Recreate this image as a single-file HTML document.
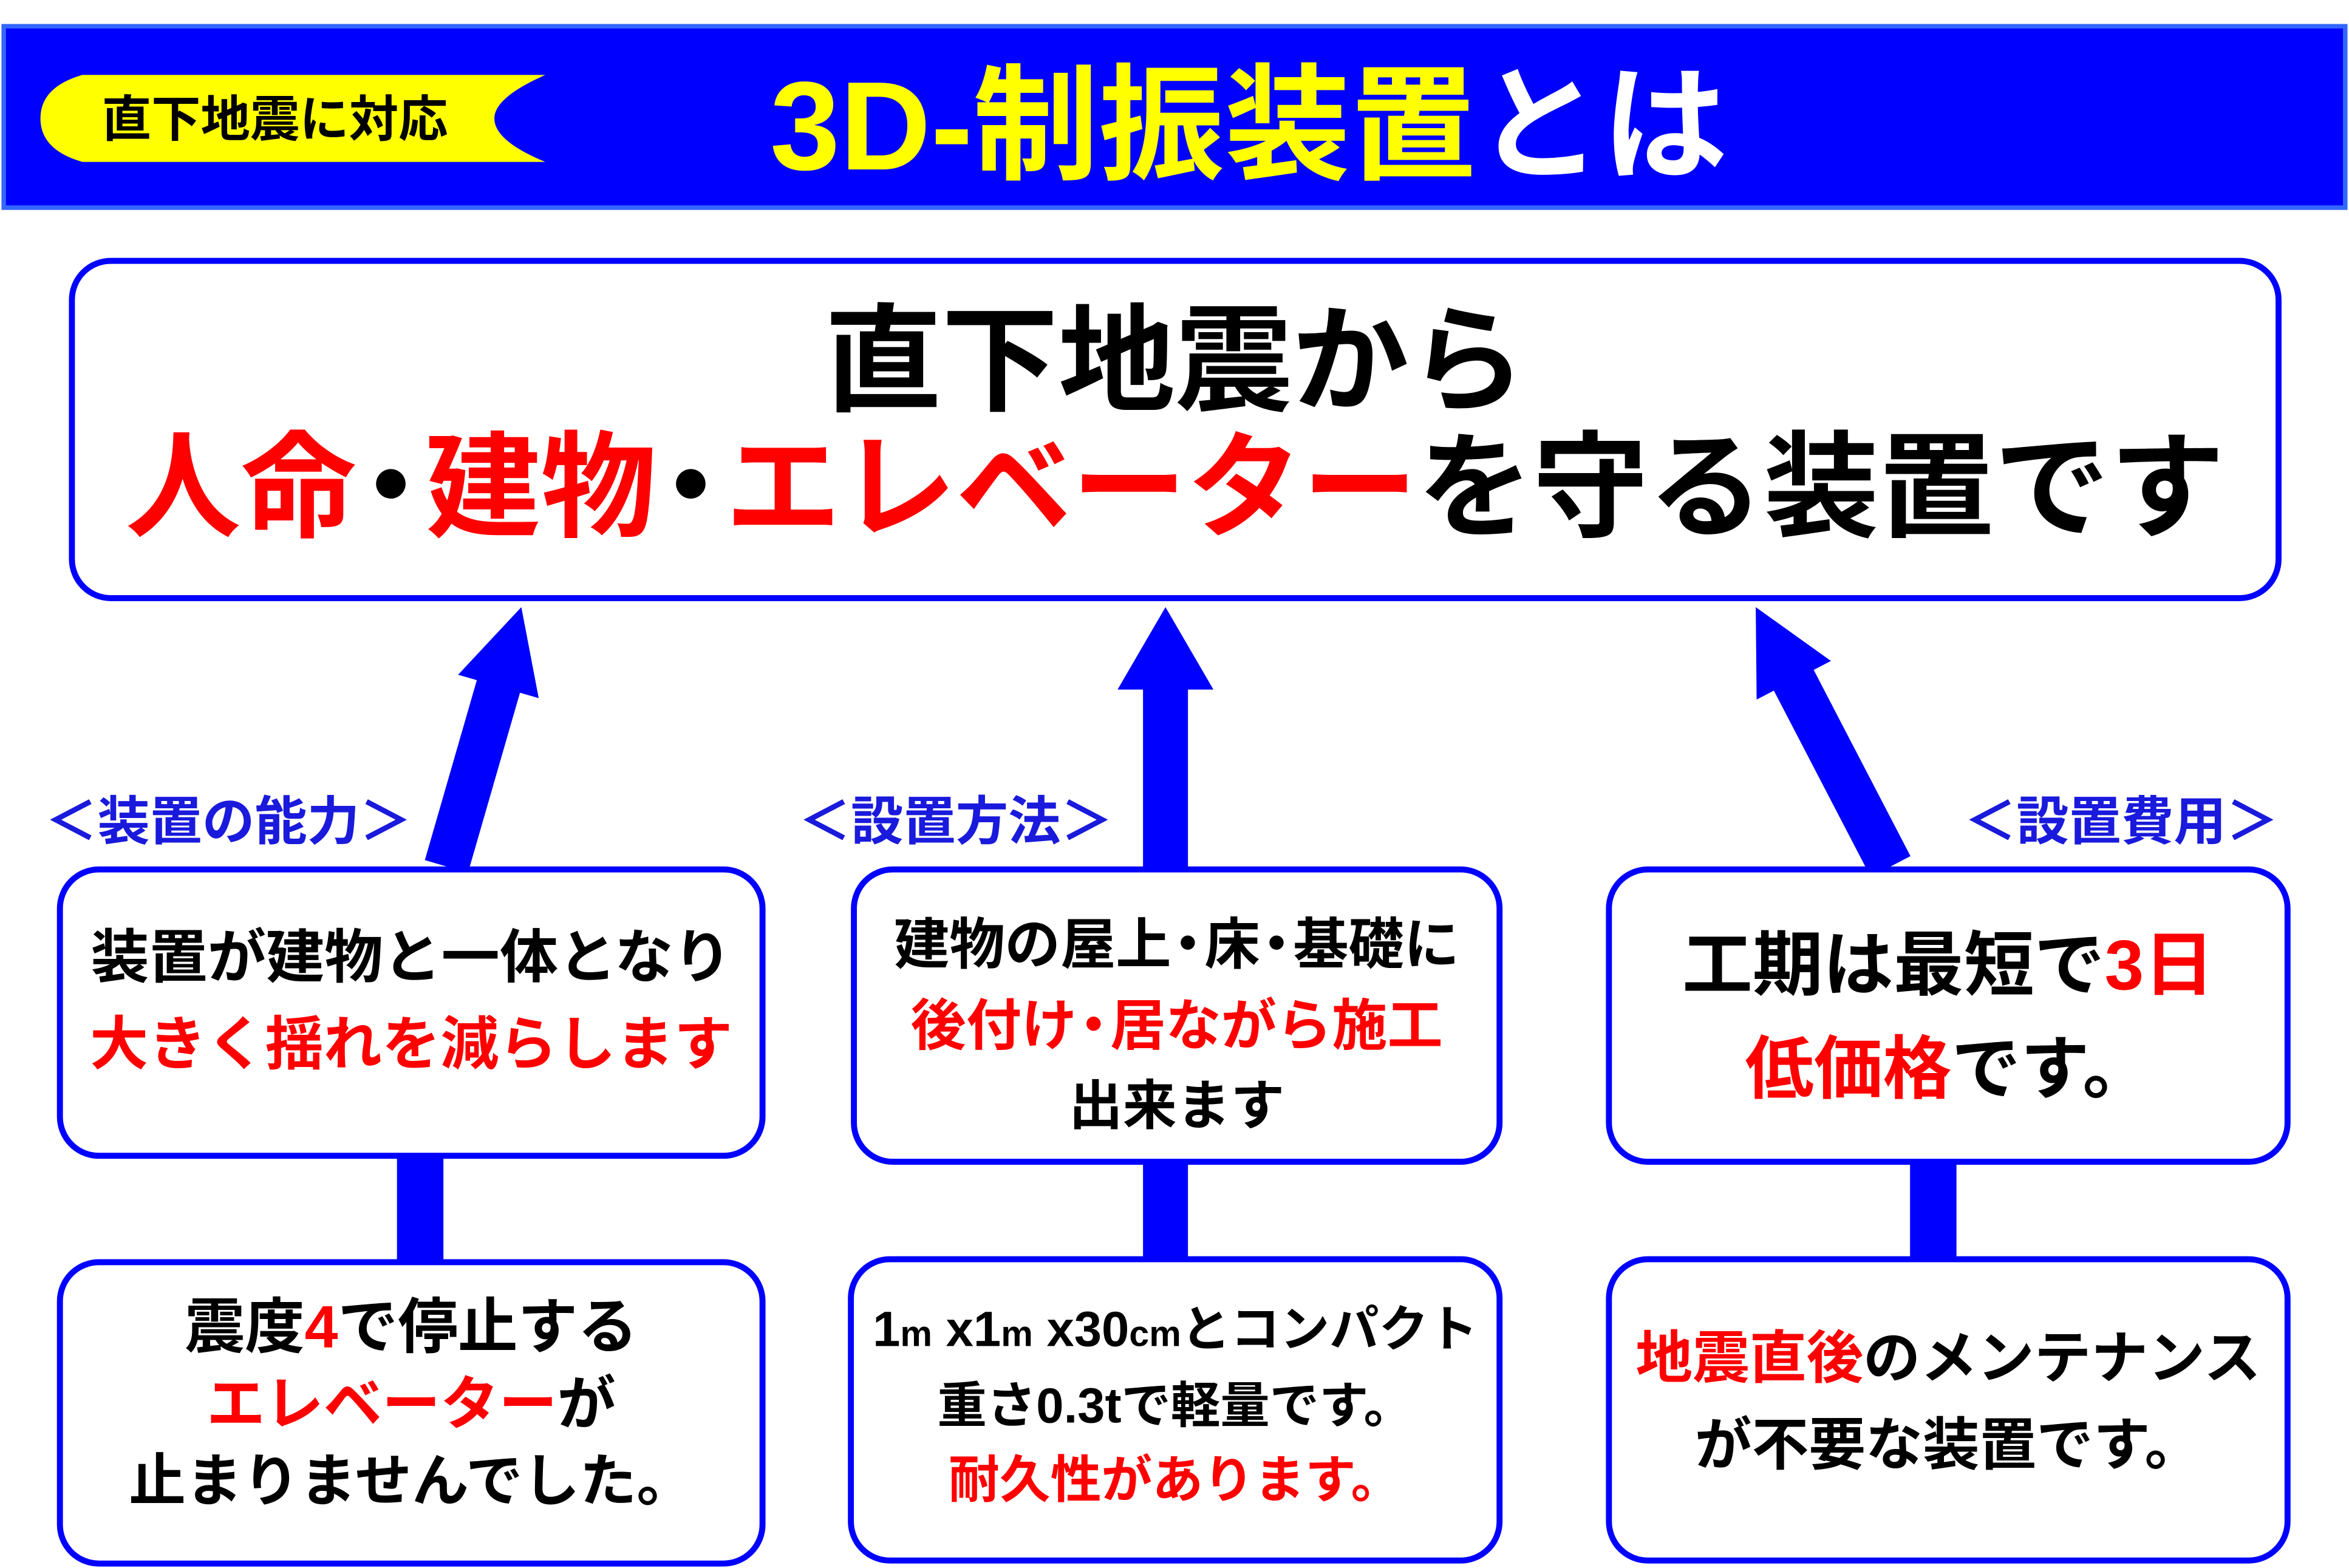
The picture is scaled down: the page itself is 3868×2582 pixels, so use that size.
<!DOCTYPE html>
<html><head><meta charset="utf-8"><style>
html,body{margin:0;padding:0;background:#fff;}
body{width:3868px;height:2582px;overflow:hidden;position:relative;}
#w{position:absolute;left:0;top:0;width:1568px;height:1046px;transform:scale(2.4668,2.4685);transform-origin:0 0;font-family:"Liberation Sans","Noto Sans CJK JP",sans-serif;font-weight:bold;}
.a{position:absolute;}
.box{position:absolute;box-sizing:border-box;border:4px solid #0000ff;border-radius:28px;background:#fff;}
.t{position:absolute;left:0;right:0;text-align:center;white-space:nowrap;line-height:1;}
.r{color:#ff0000;}
.d{display:inline-block;width:1em;margin:0 -0.2em;text-align:center;}
.lab{position:absolute;color:#1a1adc;font-size:35px;line-height:1;white-space:nowrap;font-weight:bold;}
</style></head><body><div id="w">
<div class="a" style="left:1px;top:16px;width:1566px;height:124px;box-sizing:border-box;background:#0000ff;border:3px solid #3366ff;"></div>
<svg class="a" style="left:0;top:0" width="1568" height="1046" viewBox="0 0 1568 1046">
<path d="M55,50 L364,50 Q330,65 330,79 Q330,94 364,108 L55,108 Q27,100 27,79 Q27,58 55,50 Z" fill="#ffff00"/>
<polygon fill="#0000ff" points="312.4,582.2 283.6,573.8 318.3,453.7 305.8,450.1 348,405 359.6,465.7 347.1,462.1"/>
<polygon fill="#0000ff" points="763,580 763,460 746,460 778,405 810,460 793,460 793,580"/>
<polygon fill="#0000ff" points="1275.3,571.1 1248.7,584.9 1184.1,460.7 1172.6,466.7 1172,405 1222.2,440.9 1210.7,446.9"/>
<rect x="265" y="770" width="31" height="72" fill="#0000ff"/>
<rect x="763" y="774" width="30" height="66" fill="#0000ff"/>
<rect x="1275" y="774" width="31" height="66" fill="#0000ff"/>
</svg>
<div class="a" style="left:68px;top:63px;font-size:33px;line-height:1;color:#000;white-space:nowrap;">直下地震に対応</div>
<div class="a" style="left:514px;top:42px;font-size:84px;line-height:1;white-space:nowrap;"><span style="color:#ffff00">3D-制振装置</span><span style="color:#fff">とは</span></div>

<div class="box" style="left:46px;top:172px;width:1477px;height:229px;">
<div class="t" style="top:26px;font-size:78px;">直下地震から</div>
<div class="t" style="top:112px;font-size:77px;"><span class="r">人命</span><span class="d">・</span><span class="r">建物</span><span class="d">・</span><span class="r">エレベーター</span>を守る装置です</div>
</div>

<div class="lab" style="left:30px;top:531px;">＜装置の能力＞</div>
<div class="lab" style="left:533px;top:531px;">＜設置方法＞</div>
<div class="lab" style="left:1311px;top:531px;">＜設置費用＞</div>

<div class="box" style="left:38px;top:578px;width:473px;height:195px;">
<div class="t" style="top:38px;font-size:39px;">装置が建物と一体となり</div>
<div class="t r" style="top:96px;font-size:39px;">大きく揺れを減らします</div>
</div>
<div class="box" style="left:568px;top:578px;width:435px;height:199px;">
<div class="t" style="top:30px;font-size:37px;">建物の屋上<span class="d">・</span>床<span class="d">・</span>基礎に</div>
<div class="t r" style="top:84px;font-size:37px;">後付け<span class="d">・</span>居ながら施工</div>
<div class="t" style="top:138px;font-size:36px;">出来ます</div>
</div>
<div class="box" style="left:1072px;top:578px;width:457px;height:199px;">
<div class="t" style="top:38px;font-size:47px;">工期は最短で<span class="r">3日</span></div>
<div class="t" style="top:108px;font-size:46px;"><span class="r">低価格</span>です。</div>
</div>

<div class="box" style="left:38px;top:840px;width:473px;height:205px;">
<div class="t" style="top:22px;font-size:40px;">震度<span class="r">4</span>で停止する</div>
<div class="t" style="top:74px;font-size:39px;"><span class="r">エレベーター</span>が</div>
<div class="t" style="top:126px;font-size:38px;">止まりませんでした。</div>
</div>
<div class="box" style="left:566px;top:838px;width:437px;height:205px;">
<div class="t" style="top:28px;font-size:33px;">1<span style="font-size:24px">m</span> x1<span style="font-size:24px">m</span> x30<span style="font-size:24px">cm</span>とコンパクト</div>
<div class="t" style="top:79px;font-size:33px;">重さ0.3tで軽量です。</div>
<div class="t r" style="top:129px;font-size:34px;">耐久性があります。</div>
</div>
<div class="box" style="left:1072px;top:838px;width:457px;height:205px;">
<div class="t" style="top:46px;font-size:38px;"><span class="r">地震直後</span>のメンテナンス</div>
<div class="t" style="top:104px;font-size:38px;">が不要な装置です。</div>
</div>
</div></body></html>
